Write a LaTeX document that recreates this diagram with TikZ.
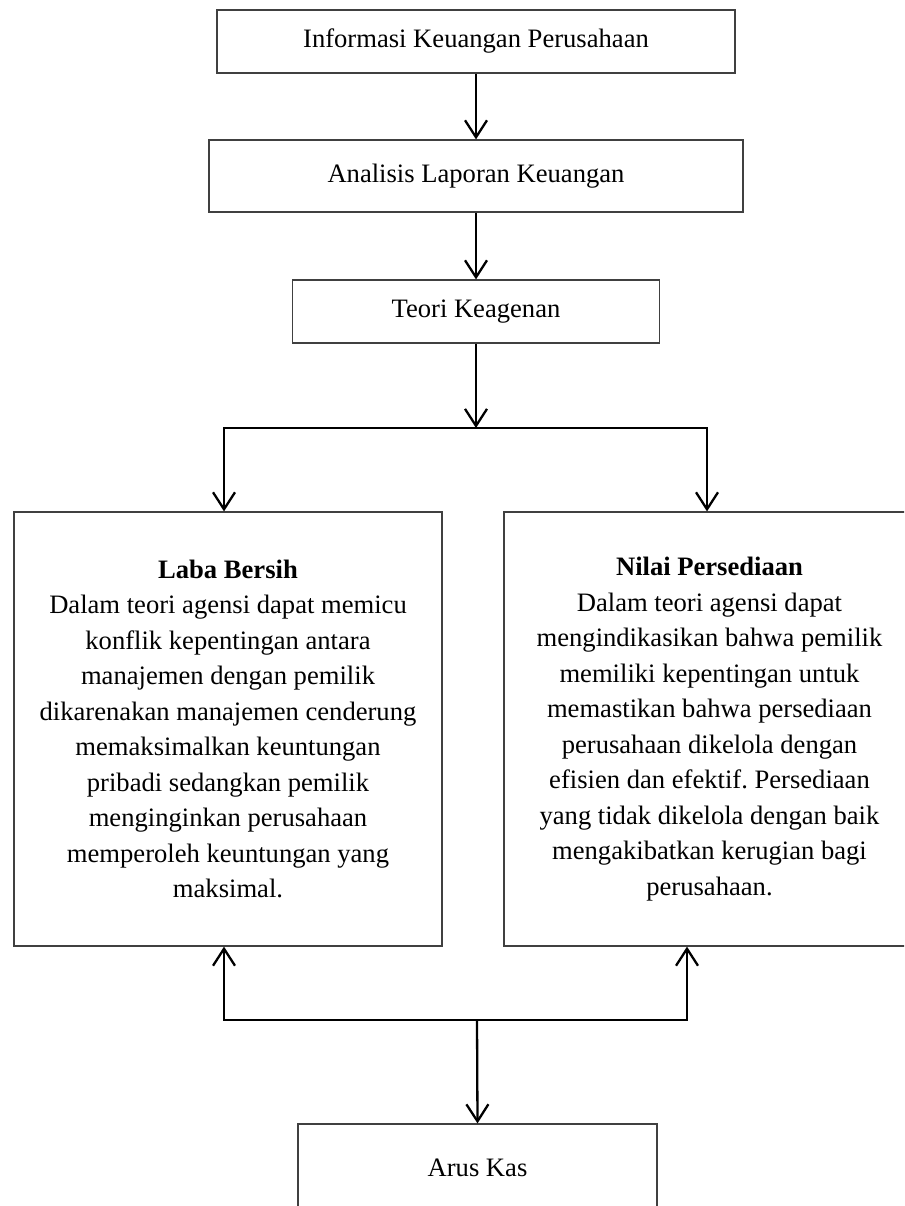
\documentclass[tikz,border=0pt]{standalone}
\usepackage{fontspec}
\setmainfont{Liberation Serif}
\usetikzlibrary{arrows.meta}
\frenchspacing
\begin{document}
\begin{tikzpicture}[x=1pt,y=-1pt,
  box/.style={draw=black!75, line width=1.2pt, inner sep=0pt, align=center,
    font=\fontsize{26.6}{35.5}\selectfont},
  conn/.style={line width=2.3pt, black},
  arr/.style={conn, -{Straight Barb[length=17pt,width=22pt,line width=2.3pt]}}
]
\useasboundingbox (0,0) rectangle (904,1206);
\clip (0,0) rectangle (904,1206);

\node[box, minimum width=518pt, minimum height=63pt] (b1) at (476,41.5) {Informasi Keuangan Perusahaan};
\node[box, minimum width=534pt, minimum height=72pt] (b2) at (476,176) {Analisis Laporan Keuangan};
\node[box, minimum width=367pt, minimum height=63pt] (b3) at (476,311.5) {Teori Keagenan};

\node[box, minimum width=428pt, minimum height=434pt] (lb) at (228,729)
  {\textbf{Laba Bersih}\\
   Dalam teori agensi dapat memicu\\
   konflik kepentingan antara\\
   manajemen dengan pemilik\\
   dikarenakan manajemen cenderung\\
   memaksimalkan keuntungan\\
   pribadi sedangkan pemilik\\
   menginginkan perusahaan\\
   memperoleh keuntungan yang\\
   maksimal.};

\node[box, minimum width=411pt, minimum height=434pt] (rb) at (709.5,729)
  {\textbf{Nilai Persediaan}\\
   Dalam teori agensi dapat\\
   mengindikasikan bahwa pemilik\\
   memiliki kepentingan untuk\\
   memastikan bahwa persediaan\\
   perusahaan dikelola dengan\\
   efisien dan efektif. Persediaan\\
   yang tidak dikelola dengan baik\\
   mengakibatkan kerugian bagi\\
   perusahaan.};

\node[box, minimum width=359pt, minimum height=88pt] (ak) at (477.5,1168) {Arus Kas};

\coordinate (jt) at (476,428);
\coordinate (jtl) at (224,428);
\coordinate (jtr) at (707,428);
\coordinate (jb) at (477,1020);
\coordinate (jbl) at (224,1020);
\coordinate (jbr) at (687,1020);

\draw[arr] (b1.south) -- (b2.north);
\draw[arr] (b2.south) -- (b3.north);
\draw[arr] (b3.south) -- (jt);
\draw[conn, line cap=rect] (jtl) -- (jtr);
\draw[arr] (jtl) -- (jtl |- lb.north);
\draw[arr] (jtr) -- (jtr |- rb.north);

\draw[conn, line cap=rect] (jbl) -- (jbr);
\draw[arr] (jbl) -- (jbl |- lb.south);
\draw[arr] (jbr) -- (jbr |- rb.south);
\draw[arr] (jb) -- (ak.north);
\end{tikzpicture}
\end{document}
